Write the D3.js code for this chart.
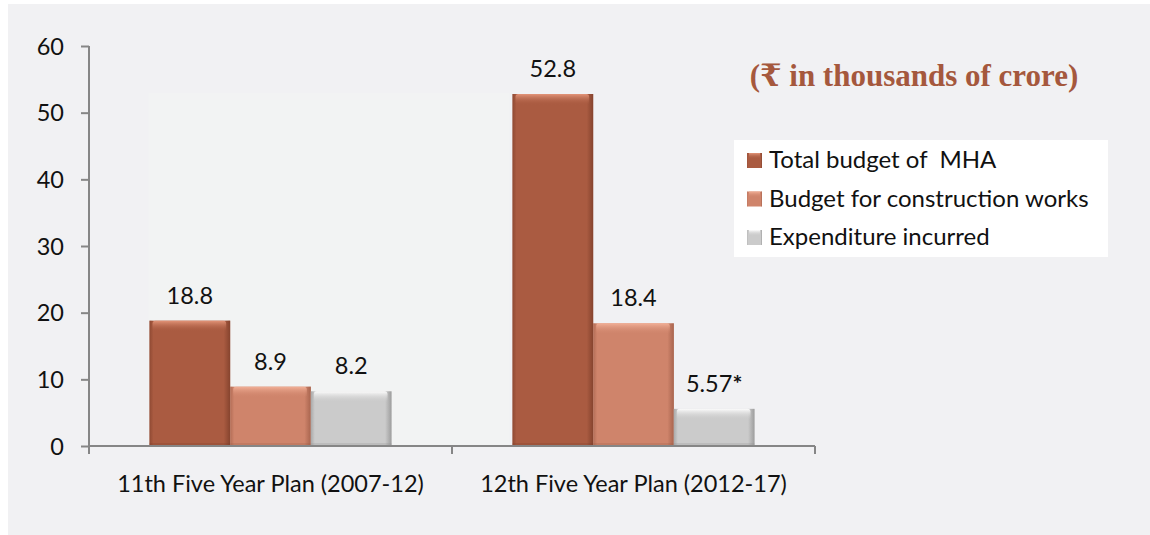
<!DOCTYPE html>
<html>
<head>
<meta charset="utf-8">
<script src="https://cdn.jsdelivr.net/npm/d3@7"></script>
<style>
  html, body { margin: 0; padding: 0; background: #ffffff; }
  svg { display: block; }
  text { white-space: pre; }
</style>
</head>
<body>
<svg id="chart" width="1150" height="535"></svg>
<script>
// Five-year plan budget figures (₹ in thousands of crore)
const categories = ["11th Five Year Plan (2007-12)", "12th Five Year Plan (2012-17)"];
const seriesNames = ["Total budget of  MHA", "Budget for construction works", "Expenditure incurred"];
const totalBudget = [18.8, 52.8];
const constructionBudget = [8.9, 18.4];
const expenditure = [8.2, 5.57];
const valueLabels = [["18.8", "52.8"], ["8.9", "18.4"], ["8.2", "5.57*"]];
const yTicks = [0, 10, 20, 30, 40, 50, 60];
const unitTitle = "(₹ in thousands of crore)";

const seriesValues = [totalBudget, constructionBudget, expenditure];
const seriesColors = ["#aa5b41", "#cf846b", "#cbcbcb"];
const seriesLight = ["#e39579", "#f2b097", "#fcfcfc"];
const seriesDark = ["#7a3c28", "#9b5a45", "#8e8e8e"];

const svg = d3.select("#chart");
const font = "Lato, 'Open Sans', sans-serif";
const fs = 23.5;

// Panel background
svg.append("rect").attr("x", 8).attr("y", 4).attr("width", 1142).attr("height", 531).attr("fill", "#f1f1f3");

const margin = { left: 89, right: 815, top: 46, bottom: 446 };
const x0 = d3.scaleBand().domain(categories).range([margin.left, margin.right]).paddingInner(0).paddingOuter(0);
const x1 = d3.scaleBand().domain(seriesNames.map((d, i) => i)).range([0, x0.bandwidth()]).paddingOuter(0.75).paddingInner(0);
const y = d3.scaleLinear().domain([0, 60]).range([margin.bottom, margin.top]);

// Faint plot-area fill
svg.append("rect").attr("x", x0(categories[0]) + x1(0) - 1).attr("y", y(52.8) - 1)
  .attr("width", x0(categories[1]) + x1(0) - (x0(categories[0]) + x1(0)) - 2)
  .attr("height", y(0) - y(52.8) + 1).attr("fill", "#f2f3f3");

// Gradients for the bevelled bars
const defs = svg.append("defs");
seriesColors.forEach((c, i) => {
  const side = defs.append("linearGradient").attr("id", "side" + i).attr("x1", 0).attr("x2", 1).attr("y1", 0).attr("y2", 0);
  side.append("stop").attr("offset", "0%").attr("stop-color", seriesDark[i]).attr("stop-opacity", 0.55);
  side.append("stop").attr("offset", "5%").attr("stop-color", seriesDark[i]).attr("stop-opacity", 0.0);
  side.append("stop").attr("offset", "92%").attr("stop-color", seriesDark[i]).attr("stop-opacity", 0.0);
  side.append("stop").attr("offset", "100%").attr("stop-color", seriesDark[i]).attr("stop-opacity", 0.75);
  const top = defs.append("linearGradient").attr("id", "top" + i).attr("x1", 0).attr("x2", 0).attr("y1", 0).attr("y2", 1);
  top.append("stop").attr("offset", "0%").attr("stop-color", seriesLight[i]).attr("stop-opacity", 1);
  top.append("stop").attr("offset", "100%").attr("stop-color", seriesColors[i]).attr("stop-opacity", 0);
});

// Value label with an optional bold footnote mark
function labelText(sel, str) {
  const star = str.endsWith("*");
  sel.append("tspan").text(star ? str.slice(0, -1) : str);
  if (star) sel.append("tspan").attr("font-weight", "bold").text("*");
}

// Bars
const groups = svg.append("g").selectAll("g").data(categories).join("g")
  .attr("transform", d => `translate(${x0(d)},0)`);

groups.each(function (cat, ci) {
  const g = d3.select(this);
  seriesValues.forEach((vals, si) => {
    const v = vals[ci];
    const bx = x1(si), bw = x1.bandwidth();
    const by = y(v), bh = y(0) - y(v);
    g.append("rect").attr("x", bx).attr("y", by).attr("width", bw).attr("height", bh).attr("fill", seriesColors[si]);
    g.append("rect").attr("x", bx).attr("y", by).attr("width", bw).attr("height", bh).attr("fill", `url(#side${si})`);
    g.append("rect").attr("x", bx + 3).attr("y", by).attr("width", bw - 7).attr("height", Math.min(11, bh)).attr("rx", 3)
      .attr("fill", `url(#top${si})`);
    g.append("rect").attr("x", bx).attr("y", y(0) - 3).attr("width", bw).attr("height", 3).attr("fill", seriesDark[si]).attr("opacity", 0.25);
    g.append("text").attr("x", bx + bw / 2).attr("y", by - 17)
      .attr("text-anchor", "middle").attr("font-family", font).attr("font-size", fs).attr("fill", "#111")
      .call(labelText, valueLabels[si][ci]);
  });
});

// Y axis
const yAxis = d3.axisLeft(y).tickValues(yTicks).tickSize(8).tickPadding(17).tickFormat(d3.format("d"));
const yg = svg.append("g").attr("transform", `translate(${margin.left},0)`).call(yAxis);
yg.select(".domain").attr("stroke", "#868686").attr("stroke-width", 2).attr("d", `M0,${y(60)}V${y(0)}`);
yg.selectAll(".tick line").attr("stroke", "#868686").attr("stroke-width", 2);
yg.selectAll(".tick text").attr("font-family", font).attr("font-size", fs).attr("fill", "#111").attr("dy", "0.35em");

// X axis
const xg = svg.append("g").attr("transform", `translate(0,${margin.bottom})`);
xg.append("line").attr("x1", margin.left).attr("x2", margin.right).attr("stroke", "#868686").attr("stroke-width", 2);
const xTickPos = [margin.left].concat(categories.map(c => x0(c) + x0.bandwidth()));
xg.selectAll("line.t").data(xTickPos).join("line").attr("class", "t")
  .attr("x1", d => d).attr("x2", d => d).attr("y1", 0).attr("y2", 8).attr("stroke", "#868686").attr("stroke-width", 2);
xg.selectAll("text").data(categories).join("text")
  .attr("x", d => x0(d) + x0.bandwidth() / 2).attr("y", 46)
  .attr("text-anchor", "middle").attr("font-family", font).attr("font-size", fs).attr("fill", "#111")
  .text(d => d);

// Unit title
svg.append("text").attr("x", 914).attr("y", 86).attr("text-anchor", "middle")
  .attr("font-family", "'Liberation Serif', 'DejaVu Serif', serif").attr("font-weight", "bold")
  .attr("font-size", 31).attr("fill", "#a5583d").text(unitTitle);

// Legend
const legend = svg.append("g");
legend.append("rect").attr("x", 734).attr("y", 140).attr("width", 374).attr("height", 117).attr("fill", "#ffffff");
seriesNames.forEach((name, i) => {
  const ly = 160 + i * 38.5;
  legend.append("rect").attr("x", 747).attr("y", ly - 7).attr("width", 15).attr("height", 15).attr("fill", seriesColors[i]);
  legend.append("rect").attr("x", 747).attr("y", ly - 7).attr("width", 15).attr("height", 15).attr("fill", `url(#side${i})`);
  legend.append("rect").attr("x", 749).attr("y", ly - 7).attr("width", 11).attr("height", 6).attr("fill", `url(#top${i})`);
  legend.append("text").attr("x", 769).attr("y", ly).attr("dy", "0.35em")
    .attr("font-family", font).attr("font-size", 24).attr("fill", "#111").text(name);
});
</script>
</body>
</html>
